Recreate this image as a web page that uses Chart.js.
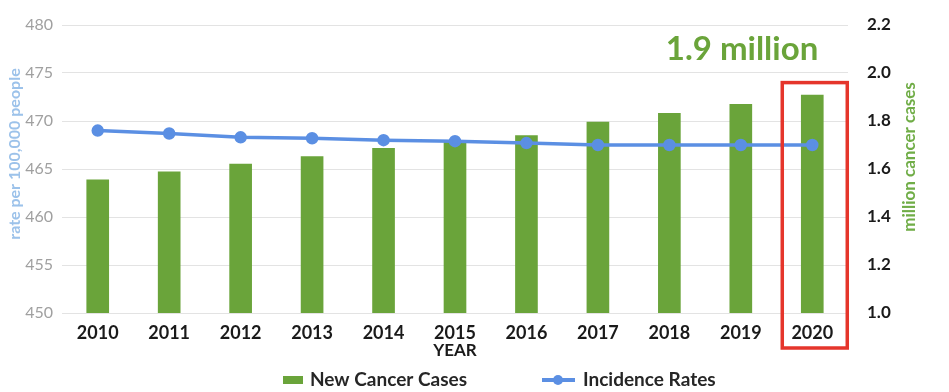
<!DOCTYPE html>
<html lang="en">
<head>
  <meta charset="UTF-8">
  <title>New Cancer Cases vs Incidence Rates</title>
  <script src="https://cdn.jsdelivr.net/npm/chart.js"></script>
  <style>
    html, body { margin: 0; padding: 0; background: #ffffff; }
    #wrap { width: 949px; height: 392px; }
  </style>
</head>
<body>
  <div id="wrap"><canvas id="cancerChart" width="949" height="392"></canvas></div>

  <script>
    const years = ['2010', '2011', '2012', '2013', '2014', '2015', '2016', '2017', '2018', '2019', '2020'];
    // million new cases (right axis)
    const newCases = [1.555, 1.588, 1.62, 1.652, 1.686, 1.717, 1.739, 1.795, 1.832, 1.869, 1.908];
    // rate per 100,000 people (left axis)
    const incidence = [469.0, 468.7, 468.3, 468.2, 468.0, 467.9, 467.7, 467.5, 467.5, 467.5, 467.5];

    const green = '#6aa43a', blue = '#5b8fe3', red = '#e5352b';
    const font = 'Lato, "Open Sans", sans-serif';

    // axis titles, callout, red box and legend
    const extras = {
      id: 'extras',
      afterDraw(chart) {
        const { ctx, chartArea, scales } = chart;
        const x = scales.x, yR = scales.yR;
        const midY = (chartArea.top + chartArea.bottom) / 2;
        ctx.save();
        ctx.textAlign = 'center';
        ctx.textBaseline = 'middle';

        // left axis title
        ctx.font = `bold 16px ${font}`;
        ctx.fillStyle = '#9cc2ea';
        ctx.translate(15, midY - 15);
        ctx.rotate(-Math.PI / 2);
        ctx.fillText('rate per 100,000 people', 0, 0);
        ctx.setTransform(1, 0, 0, 1, 0, 0);

        // right axis title, reads bottom to top
        ctx.font = `bold 17px ${font}`;
        ctx.fillStyle = '#70ad47';
        ctx.translate(910, midY - 12);
        ctx.rotate(-Math.PI / 2);
        ctx.fillText('million cancer cases', 0, 0);
        ctx.setTransform(1, 0, 0, 1, 0, 0);

        // highlight box for last year
        const cx = x.getPixelForValue(years.length - 1);
        const top = yR.getPixelForValue(1.96);
        ctx.strokeStyle = red;
        ctx.lineWidth = 3.5;
        ctx.strokeRect(cx - 30, top, 65, chartArea.bottom + 35 - top);

        ctx.font = `bold 33px ${font}`;
        ctx.fillStyle = green;
        ctx.textAlign = 'right';
        ctx.fillText('1.9 million', cx + 6, yR.getPixelForValue(2.1));

        // legend
        const ly = 380;
        ctx.font = `bold 19px ${font}`;
        ctx.fillStyle = green;
        ctx.fillRect(283, ly - 4, 20, 8);
        ctx.fillStyle = '#262626';
        ctx.textAlign = 'left';
        ctx.fillText(chart.data.datasets[0].label, 310, ly);
        ctx.strokeStyle = blue;
        ctx.lineWidth = 4;
        ctx.beginPath(); ctx.moveTo(542, ly); ctx.lineTo(575, ly); ctx.stroke();
        ctx.fillStyle = blue;
        ctx.beginPath(); ctx.arc(558, ly, 5, 0, Math.PI * 2); ctx.fill();
        ctx.fillStyle = '#262626';
        ctx.fillText(chart.data.datasets[1].label, 583, ly);
        ctx.restore();
      }
    };

    new Chart(document.getElementById('cancerChart'), {
      data: {
        labels: years,
        datasets: [
          { type: 'bar', label: 'New Cancer Cases', data: newCases, yAxisID: 'yR',
            backgroundColor: green, barThickness: 22, order: 1 },
          { type: 'line', label: 'Incidence Rates', data: incidence, yAxisID: 'yL',
            borderColor: blue, backgroundColor: blue, borderWidth: 3.5,
            pointRadius: 4.5, pointHoverRadius: 4.5, tension: 0, order: 0 }
        ]
      },
      options: {
        responsive: false, animation: false,
        layout: { padding: { top: 25, left: 0, right: 0, bottom: 0 } },
        plugins: { legend: { display: false }, tooltip: { enabled: false } },
        scales: {
          x: {
            offset: true,
            grid: { display: false, drawTicks: false },
            border: { display: false },
            ticks: { color: '#1a1a1a', font: { family: font, size: 18, weight: 'bold' }, padding: 9, maxRotation: 0 },
            title: { display: true, text: 'YEAR', color: '#1a1a1a', font: { family: font, size: 17, weight: 'bold' }, padding: { top: 0, bottom: 31 } },
            afterFit: s => { s.height = 79; }
          },
          yL: {
            position: 'left', min: 450, max: 480,
            grid: { color: '#e3e3e3', drawTicks: true, tickLength: 7, tickColor: 'rgba(0,0,0,0)' },
            border: { display: false },
            ticks: { stepSize: 5, color: '#a0a0a0', font: { family: font, size: 16 }, padding: 2 },
            afterFit: s => { s.width = 62; }
          },
          yR: {
            position: 'right', min: 1.0, max: 2.2,
            grid: { drawOnChartArea: false, drawTicks: true, tickLength: 15, color: 'rgba(0,0,0,0)' },
            border: { display: false },
            ticks: { stepSize: 0.2, color: '#1a1a1a', font: { family: font, size: 17, weight: 'bold' }, padding: 4,
                     callback: v => v.toFixed(1) },
            afterFit: s => { s.width = 101; }
          }
        }
      },
      plugins: [extras]
    });
  </script>
</body>
</html>
